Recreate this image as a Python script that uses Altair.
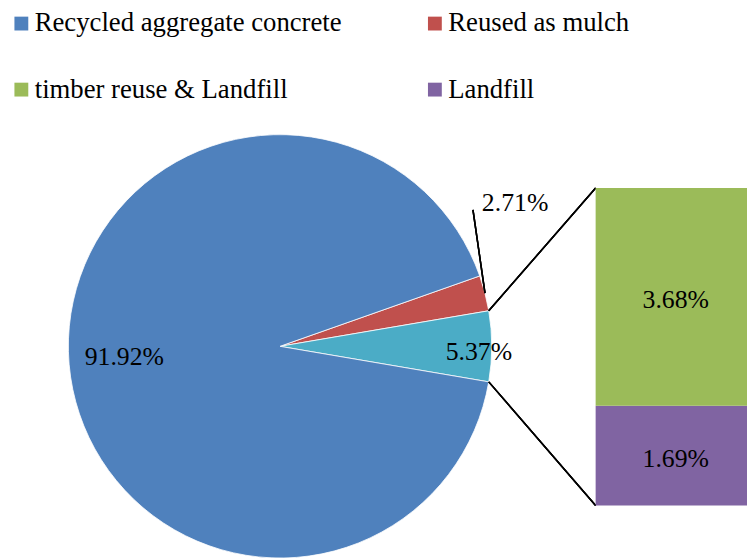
import math
import altair as alt
import pandas as pd

# ---- data ----
pie_categories = ["Reused as mulch", "Other", "Recycled aggregate concrete"]
pie_values = [2.71, 5.37, 91.92]
bar_categories = ["Landfill", "timber reuse & Landfill"]
bar_values = [1.69, 3.68]
legend_entries = ["Recycled aggregate concrete", "timber reuse & Landfill",
                  "Reused as mulch", "Landfill"]
color_domain = ["Recycled aggregate concrete", "Reused as mulch",
                "timber reuse & Landfill", "Landfill", "Other"]
color_range = ["#4F81BD", "#C0504D", "#9BBB59", "#8064A2", "#4BACC6"]

# ---- layout (pixels inside the chart) ----
W, H = 747, 552
CX, CY, R = 275, 339, 214
BAR_X0, BAR_X1, BAR_TOP, BAR_BOTTOM = 594, 756, 179, 500
FONT = "Times New Roman, Liberation Serif, serif"
FS = 26
LFS = 27

pie_df = pd.DataFrame({"category": pie_categories, "value": pie_values,
                       "order": list(range(len(pie_values)))})
bar_df = pd.DataFrame({"category": bar_categories, "value": bar_values,
                       "order": list(range(len(bar_values)))})

total = sum(pie_values)
other = pie_values[1]
mulch = pie_values[0]
# start so that the "Other" slice is centred on 3 o'clock
a0 = math.pi / 2 - (other / 2 + mulch) / total * 2 * math.pi
theta_scale = alt.Scale(domain=[0, total], range=[a0, a0 + 2 * math.pi])
bar_scale = alt.Scale(domain=[0, sum(bar_values)], range=[BAR_BOTTOM, BAR_TOP])
color_scale = alt.Scale(domain=color_domain, range=color_range)


def pt(angle, r):
    return CX + r * math.sin(angle), CY - r * math.cos(angle)


ang_other_start = a0 + mulch / total * 2 * math.pi
ang_other_end = a0 + (mulch + other) / total * 2 * math.pi
ang_mulch_mid = a0 + mulch / 2 / total * 2 * math.pi

legend = alt.Legend(title=None, orient="none", legendX=0, legendY=-1, columns=2,
                    values=legend_entries, symbolType="square", symbolSize=196,
                    symbolStrokeWidth=0, symbolOpacity=1, labelFont=FONT,
                    labelFontSize=LFS, labelColor="black", labelOffset=0,
                    columnPadding=80, rowPadding=39, padding=0, labelLimit=0)

pie = alt.Chart(pie_df).mark_arc(outerRadius=R, stroke="white", strokeWidth=0.8).encode(
    theta=alt.Theta("value:Q", stack=True, scale=theta_scale),
    color=alt.Color("category:N", scale=color_scale, legend=legend),
    order=alt.Order("order:Q"),
    x=alt.value(CX), y=alt.value(CY),
)

pie_text_base = alt.Chart(pie_df).transform_stack(
    stack="value", groupby=[], as_=["v0", "v1"], sort=[alt.SortField("order")]
).transform_calculate(
    mid="(datum.v0 + datum.v1) / 2",
    label="format(datum.value, '.2f') + '%'",
)


def pie_label(cat, radius, dy):
    return pie_text_base.transform_filter(f"datum.category == '{cat}'").mark_text(
        font=FONT, fontSize=FS, color="black", baseline="middle", dy=dy,
        radius=radius,
    ).encode(
        theta=alt.Theta("mid:Q", stack=None, scale=theta_scale),
        text="label:N",
        x=alt.value(CX), y=alt.value(CY),
    )


blue_text = pie_label(pie_categories[2], 158, -3)
cyan_text = pie_label(pie_categories[1], 201, 6)

mulch_text = pie_text_base.transform_filter(
    f"datum.category == '{pie_categories[0]}'"
).mark_text(
    font=FONT, fontSize=FS, color="black", align="left", baseline="middle"
).encode(text="label:N", x=alt.value(479), y=alt.value(194))

segments = [
    (pt(ang_mulch_mid, R), (470, 201)),
    (pt(ang_other_start, R), (BAR_X0, BAR_TOP)),
    (pt(ang_other_end, R), (BAR_X0, BAR_BOTTOM)),
]
rules = [
    alt.Chart(pie_df).mark_rule(color="black", strokeWidth=1.5).encode(
        x=alt.value(p[0]), y=alt.value(p[1]), x2=alt.value(q[0]), y2=alt.value(q[1]))
    for p, q in segments
]

bar_base = alt.Chart(bar_df).transform_stack(
    stack="value", groupby=[], as_=["v0", "v1"], sort=[alt.SortField("order")]
).transform_calculate(
    mid="(datum.v0 + datum.v1) / 2",
    label="format(datum.value, '.2f') + '%'",
)

bar = bar_base.mark_rect().encode(
    x=alt.value(BAR_X0), x2=alt.value(BAR_X1),
    y=alt.Y("v0:Q", scale=bar_scale, axis=None),
    y2="v1:Q",
    color=alt.Color("category:N", scale=color_scale, legend=legend),
)

bar_text = bar_base.mark_text(font=FONT, fontSize=FS, color="black",
                              baseline="middle", dy=3).encode(
    x=alt.value((BAR_X0 + BAR_X1) / 2),
    y=alt.Y("mid:Q", scale=bar_scale, axis=None),
    text="label:N",
)

chart = alt.layer(pie, blue_text, cyan_text, mulch_text, *rules, bar, bar_text).properties(
    width=W, height=H, padding=0,
    autosize=alt.AutoSizeParams(type="none"),
    background="white",
).configure_view(stroke=None)

chart.save("out.html", embed_options={"renderer": "svg", "actions": False})
